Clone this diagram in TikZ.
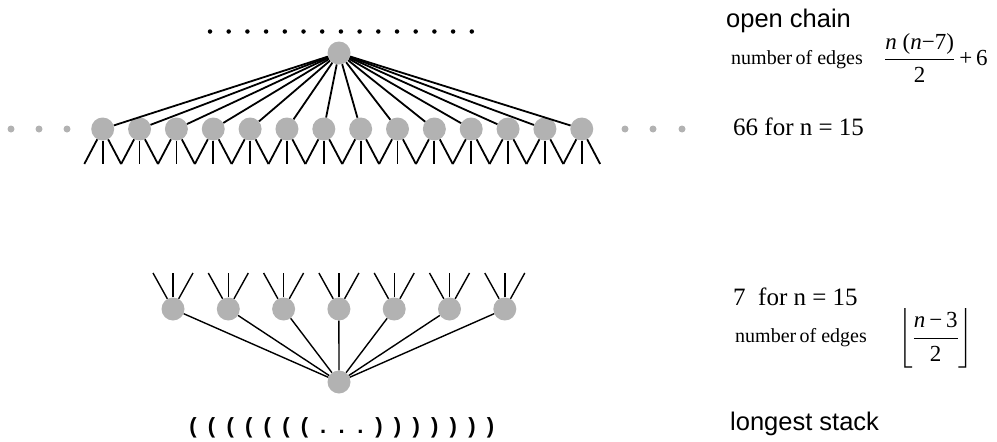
\documentclass[tikz,border=0pt]{standalone}
\usepackage{amsmath}
\usepackage{fontspec}
\setmainfont{Liberation Serif}
\setsansfont{Liberation Sans}
\usepackage{tikz}
\usetikzlibrary{positioning}

\begin{document}
\begin{tikzpicture}[x=1pt,y=-1pt,
  vtx/.style={circle, fill=gray!60, minimum size=23pt, inner sep=0pt},
  gdot/.style={circle, fill=gray!60, minimum size=7pt, inner sep=0pt},
  bdot/.style={circle, fill=black, minimum size=4.5pt, inner sep=0pt},
  edge/.style={line width=1.8pt},
  thinedge/.style={line width=1.4pt},
  title/.style={anchor=base west, inner sep=0pt, font=\sffamily\fontsize{25.5}{30}\selectfont},
  big/.style={anchor=base west, inner sep=0pt, font=\fontsize{25}{30}\selectfont},
  small/.style={anchor=base west, inner sep=0pt, font=\fontsize{20}{24}\selectfont},
  formula/.style={anchor=west, inner sep=0pt, font=\fontsize{23}{27}\selectfont},
  paren/.style={anchor=base, inner sep=0pt, font=\sffamily\bfseries\fontsize{22}{26}\selectfont}
]
\useasboundingbox (0,0) rectangle (997,442);

% open chain
\foreach \i in {0,...,14}
  \node[bdot] (top\i) at ({210+18.7*\i},31.5) {};
\node[vtx] (hub) at (339,53) {};
\foreach \i in {1,...,14}
  \node[vtx] (b\i) at ({102.7+36.85*(\i-1)},129) {};
\foreach \x [count=\k] in {11,39,67}
  \node[gdot] (l\k) at (\x,129) {};
\foreach \x [count=\k] in {625,653,682}
  \node[gdot] (r\k) at (\x,129) {};

\foreach \i in {1,...,14} {
  \draw[edge] (hub) -- (b\i);
  \coordinate (bl\i) at ({102.7+36.85*(\i-1)-18.4},164);
  \coordinate (bm\i) at ({102.7+36.85*(\i-1)},164);
  \coordinate (br\i) at ({102.7+36.85*(\i-1)+18.4},164);
  \draw[edge] (b\i) -- (bl\i);
  \draw[edge] (b\i) -- (bm\i);
  \draw[edge] (b\i) -- (br\i);
}

% longest stack
\node[vtx] (root) at (339,382) {};
\foreach \i in {1,...,7} {
  \node[vtx] (s\i) at ({173+55.3*(\i-1)},309) {};
  \coordinate (sl\i) at ({173+55.3*(\i-1)-20},273);
  \coordinate (sm\i) at ({173+55.3*(\i-1)},273);
  \coordinate (sr\i) at ({173+55.3*(\i-1)+20},273);
  \draw[thinedge] (root) -- (s\i);
  \draw[thinedge] (s\i) -- (sl\i);
  \draw[thinedge] (s\i) -- (sm\i);
  \draw[thinedge] (s\i) -- (sr\i);
}
\foreach \k in {0,...,6}
  \node[paren] (po\k) at ({193+18.6*\k},433) {(};
\foreach \k in {7,8,9}
  \node[paren] (pd\k) at ({193+18.6*\k},433) {.};
\foreach \k in {10,...,16}
  \node[paren] (pc\k) at ({193+18.6*\k},433) {)};

% texts
\node[title] (chain) at (726,27) {open chain};
\node[small] (edges1) at (731,64) {number\,of edges};
\node[formula] (frac1) at (884,58)
  {$\dfrac{\text{\itshape n\upshape\ (\itshape n\upshape −7)}}{\text{2}}\,\text{+\,6}$};
\node[big] (count1) at (733,135) {66 for n = 15};

\node[big] (count2) at (733,305) {7\ \ for n = 15};
\node[small] (edges2) at (735,342) {number\,of edges};
\node[formula] (frac2) at (898,338)
  {$\left\lfloor\dfrac{\text{\itshape n\upshape\,−\,3}}{\text{2}}\right\rfloor$};
\node[title] (stack) at (730,430) {longest stack};
\end{tikzpicture}
\end{document}
